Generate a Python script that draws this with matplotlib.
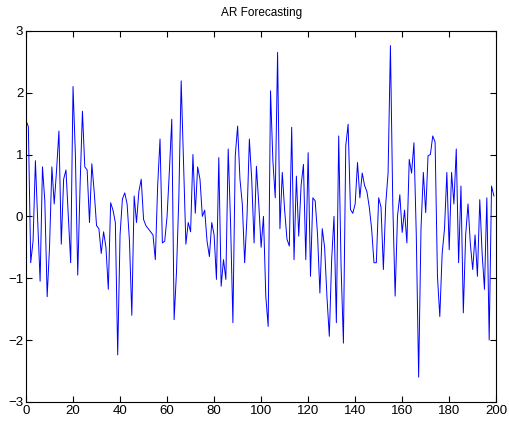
import numpy as np
import matplotlib.pyplot as plt

plt.rcParams['font.family'] = ['Liberation Sans', 'DejaVu Sans']

# AR series values, index 0..199
values = [
    1.55, 1.45, -0.75, -0.40, 0.90, -0.10, -1.05, 0.80, 0.25, -1.30,
    -0.50, 0.80, 0.20, 0.75, 1.38, -0.45, 0.60, 0.75, 0.00, -0.75,
    2.10, 1.00, -0.95, 0.50, 1.70, 0.80, 0.75, -0.10, 0.85, 0.40,
    -0.15, -0.20, -0.60, -0.25, -0.50, -1.18, 0.22, 0.10, -0.10, -2.24,
    -0.30, 0.28, 0.38, 0.20, -0.40, -1.60, 0.33, -0.10, 0.40, 0.60,
    -0.05, -0.15, -0.20, -0.25, -0.30, -0.70, 0.50, 1.25, -0.43, -0.40,
    0.00, 0.75, 1.57, -1.67, -0.90, 0.30, 2.19, 0.90, -0.45, -0.10,
    -0.25, 1.00, 0.05, 0.80, 0.60, 0.00, 0.10, -0.40, -0.65, -0.10,
    -0.30, -1.02, 0.95, -1.13, -0.70, -1.02, 1.09, -0.10, -1.72, 0.98,
    1.46, 0.60, 0.20, -0.75, 0.00, 1.25, 0.60, -0.43, 0.81, 0.20,
    -0.50, 0.00, -1.30, -1.78, 2.03, 0.90, 0.30, 2.65, -0.20, 0.71,
    0.10, -0.37, -0.48, 1.44, -0.70, 0.65, -0.32, 0.50, 0.84, -0.70,
    1.03, -0.97, 0.30, 0.25, -0.30, -1.24, -0.20, -0.50, -1.30, -1.94,
    -0.70, 0.00, -1.72, 1.30, -0.80, -2.05, 1.14, 1.49, 0.11, 0.05,
    0.20, 0.87, 0.30, 0.70, 0.50, 0.40, 0.15, -0.20, -0.75, -0.75,
    0.30, 0.15, -0.86, 0.20, 0.70, 2.76, 0.20, -1.29, 0.00, 0.35,
    -0.26, 0.10, -0.43, 0.92, 0.70, 1.19, -0.30, -2.60, -0.20, 0.71,
    0.06, 0.98, 1.00, 1.30, 1.20, -0.97, -1.62, -0.60, -0.20, 0.71,
    -0.54, 0.71, 0.20, 1.09, -0.75, 0.49, -1.56, -0.30, 0.20, -0.45,
    -0.86, -0.30, -0.97, 0.27, -0.60, -1.18, 0.30, -2.00, 0.49, 0.33,
]
x = np.arange(len(values))

xticks = [0, 20, 40, 60, 80, 100, 120, 140, 160, 180, 200]
yticks = [-3, -2, -1, 0, 1, 2, 3]

fig = plt.figure(figsize=(5.10, 4.34), dpi=100)
ax = fig.add_axes([0.051, 0.074, 0.922, 0.855])
ax.plot(x, values, color=(0, 0, 1), linewidth=0.7)

ax.set_xlim(0, 200)
ax.set_ylim(-3, 3)
ax.set_xticks(xticks)
ax.set_yticks(yticks)
ax.tick_params(direction='in', length=4, width=0.8, labelsize=9.5,
               top=True, right=True, pad=2)
for s in ax.spines.values():
    s.set_linewidth(0.8)

ax.set_title("AR Forecasting", fontsize=8.5, pad=11)

fig.savefig("out.png", dpi=100)
